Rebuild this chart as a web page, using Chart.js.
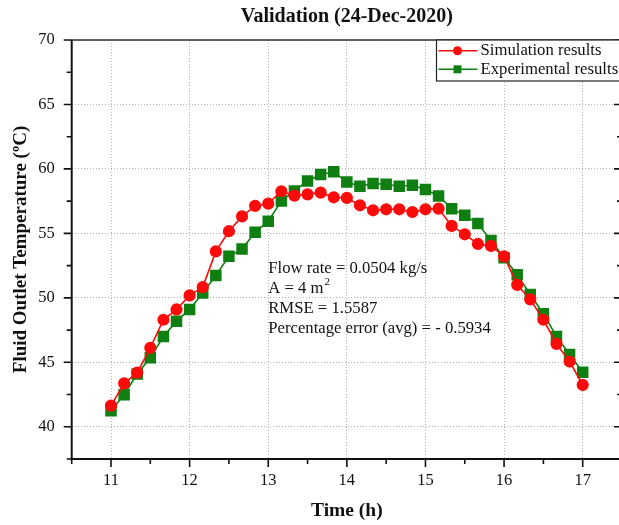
<!DOCTYPE html>
<html>
<head>
<meta charset="utf-8">
<script src="https://cdn.jsdelivr.net/npm/chart.js@4.4.1/dist/chart.umd.min.js"></script>
<style>
  html, body { margin: 0; padding: 0; background: #fff; overflow: hidden; }
  #wrap { width: 619px; height: 525px; overflow: hidden; position: relative; }
  #c { position: absolute; left: 0; top: 0; }
</style>
</head>
<body>
<div id="wrap"><canvas id="c" width="625" height="525"></canvas></div>
<script>
// Time of day (h), sampled every 10 minutes
const timeHours = [
  11.0, 11.1667, 11.3333, 11.5, 11.6667, 11.8333,
  12.0, 12.1667, 12.3333, 12.5, 12.6667, 12.8333,
  13.0, 13.1667, 13.3333, 13.5, 13.6667, 13.8333,
  14.0, 14.1667, 14.3333, 14.5, 14.6667, 14.8333,
  15.0, 15.1667, 15.3333, 15.5, 15.6667, 15.8333,
  16.0, 16.1667, 16.3333, 16.5, 16.6667, 16.8333,
  17.0
];

// Fluid outlet temperature (°C)
const simulationTemp = [
  41.64, 43.37, 44.20, 46.12, 48.30, 49.10,
  50.19, 50.83, 53.60, 55.17, 56.32, 57.13,
  57.31, 58.27, 57.93, 58.03, 58.16, 57.80,
  57.75, 57.18, 56.79, 56.87, 56.87, 56.66,
  56.87, 56.92, 55.58, 54.93, 54.18, 54.03,
  53.22, 51.01, 49.88, 48.30, 46.43, 45.06,
  43.25
];
const experimentalTemp = [
  41.25, 42.49, 44.10, 45.35, 47.00, 48.19,
  49.10, 50.37, 51.74, 53.22, 53.78, 55.08,
  55.94, 57.51, 58.29, 59.07, 59.56, 59.78,
  58.99, 58.66, 58.86, 58.81, 58.66, 58.73,
  58.40, 57.90, 56.92, 56.40, 55.76, 54.44,
  53.11, 51.79, 50.26, 48.77, 47.00, 45.60,
  44.23
];

const seriesLabels = ['Simulation results', 'Experimental results'];
const xTickValues = [11, 12, 13, 14, 15, 16, 17];
const yTickValues = [40, 45, 50, 55, 60, 65, 70];
const titleText = 'Validation (24-Dec-2020)';
const noteLines = [
  ['Flow rate = 0.0504 kg/s', ''],
  ['A = 4 m', '2'],
  ['RMSE = 1.5587', ''],
  ['Percentage error (avg) = - 0.5934', '']
];

const SERIF = "'Liberation Serif', 'Times New Roman', serif";
const RED = '#ff0a0a';
const GREEN = '#0f7f12';

function toPoints(ys) {
  return timeHours.map((t, i) => ({ x: t, y: ys[i] }));
}

// Frame, tick marks, title, legend and the note text
const decorPlugin = {
  id: 'decor',
  afterDraw(chart) {
    const { ctx, chartArea: a, scales: { x, y } } = chart;
    ctx.save();

    // tick marks: major on whole units, minor halfway between
    ctx.strokeStyle = '#111';
    ctx.lineWidth = 1.6;
    ctx.beginPath();
    for (let v = x.min; v <= x.max + 1e-9; v += 0.5) {
      const px = x.getPixelForValue(v);
      const len = Number.isInteger(v) ? 8 : 5;
      ctx.moveTo(px, a.bottom); ctx.lineTo(px, a.bottom + len);
    }
    for (let v = y.min; v <= y.max + 1e-9; v += 2.5) {
      const py = y.getPixelForValue(v);
      const len = (v % 5 === 0) ? 8 : 5;
      ctx.moveTo(a.left, py); ctx.lineTo(a.left - len, py);
      ctx.moveTo(a.right, py); ctx.lineTo(a.right - len, py);
    }
    ctx.stroke();

    // axis frame
    ctx.lineWidth = 2;
    ctx.strokeStyle = '#111';
    ctx.beginPath();
    ctx.moveTo(a.left, a.top); ctx.lineTo(a.left, a.bottom); ctx.lineTo(a.right, a.bottom);
    ctx.stroke();
    ctx.strokeStyle = '#333';
    ctx.lineWidth = 1.6;
    ctx.beginPath();
    ctx.moveTo(a.left, a.top); ctx.lineTo(a.right, a.top); ctx.lineTo(a.right, a.bottom);
    ctx.stroke();

    // title centred over the plot
    ctx.fillStyle = '#111';
    ctx.font = 'bold 20px ' + SERIF;
    ctx.textAlign = 'center';
    ctx.textBaseline = 'middle';
    ctx.fillText(titleText, (a.left + a.right) / 2, 17);

    // note text anchored in data space
    ctx.textAlign = 'left';
    const nx = x.getPixelForValue(13.0);
    const ny = y.getPixelForValue(52.3);
    noteLines.forEach(([main, sup], i) => {
      const ly = ny + i * 20.3;
      ctx.font = '16.7px ' + SERIF;
      ctx.fillText(main, nx, ly);
      if (sup) {
        const w = ctx.measureText(main).width;
        ctx.font = '11px ' + SERIF;
        ctx.fillText(sup, nx + w + 1, ly - 6);
      }
    });

    // legend box in the upper right corner
    const lx = 436.5, ly = a.top, lh = 41;
    ctx.fillStyle = '#fff';
    ctx.fillRect(lx, ly, 200, lh);
    ctx.strokeStyle = '#222';
    ctx.lineWidth = 1.2;
    ctx.strokeRect(lx, ly, 200, lh);
    chart.data.datasets.forEach((ds, i) => {
      const cy = ly + 10.7 + i * 18.6;
      ctx.strokeStyle = ds.borderColor;
      ctx.lineWidth = 1.6;
      ctx.beginPath();
      ctx.moveTo(lx + 2, cy); ctx.lineTo(lx + 41, cy);
      ctx.stroke();
      ctx.fillStyle = ds.pointBackgroundColor;
      if (ds.pointStyle === 'rect') {
        ctx.fillRect(lx + 21 - 4, cy - 4, 8, 8);
      } else {
        ctx.beginPath();
        ctx.arc(lx + 21, cy, 4.5, 0, Math.PI * 2);
        ctx.fill();
      }
      ctx.fillStyle = '#111';
      ctx.font = '16.7px ' + SERIF;
      ctx.textAlign = 'left';
      ctx.textBaseline = 'middle';
      ctx.fillText(ds.label, lx + 44, cy);
    });

    ctx.restore();
  }
};

new Chart(document.getElementById('c'), {
  type: 'line',
  data: {
    datasets: [
      {
        label: seriesLabels[0],
        data: toPoints(simulationTemp),
        borderColor: RED,
        backgroundColor: RED,
        pointBackgroundColor: RED,
        pointBorderColor: RED,
        pointStyle: 'circle',
        pointRadius: 5.3,
        borderWidth: 1.6,
        tension: 0
      },
      {
        label: seriesLabels[1],
        data: toPoints(experimentalTemp),
        borderColor: GREEN,
        backgroundColor: GREEN,
        pointBackgroundColor: GREEN,
        pointBorderColor: GREEN,
        pointStyle: 'rect',
        pointRadius: 7,
        borderWidth: 1.6,
        tension: 0
      }
    ]
  },
  options: {
    responsive: false,
    animation: false,
    devicePixelRatio: 1,
    // the plot frame runs just past the visible right edge
    layout: { autoPadding: false, padding: { top: 40, right: 3, left: 0, bottom: 0 } },
    plugins: {
      legend: { display: false },
      title: { display: false },
      tooltip: { enabled: false }
    },
    scales: {
      x: {
        type: 'linear',
        position: 'bottom',
        min: 10.5,
        max: 17.5,
        afterBuildTicks: (s) => { s.ticks = xTickValues.map(v => ({ value: v })); },
        afterFit: (s) => { s.height = 66; s.paddingLeft = 0; s.paddingRight = 0; },
        grid: { color: '#b5b5b5', lineWidth: 1, drawTicks: false },
        border: { display: false, dash: [1, 2] },
        ticks: {
          color: '#111',
          padding: 12,
          maxRotation: 0,
          font: { family: SERIF, size: 16.5 }
        },
        title: {
          display: true,
          text: 'Time (h)',
          color: '#111',
          font: { family: SERIF, size: 19.5, weight: 'bold' },
          padding: { top: 0, bottom: 2 }
        }
      },
      y: {
        type: 'linear',
        min: 37.5,
        max: 70,
        afterBuildTicks: (s) => { s.ticks = yTickValues.map(v => ({ value: v })); },
        afterFit: (s) => { s.width = 71.7; s.paddingTop = 0; s.paddingBottom = 0; },
        grid: { color: '#b5b5b5', lineWidth: 1, drawTicks: false },
        border: { display: false, dash: [1, 2] },
        ticks: {
          color: '#111',
          padding: 17,
          font: { family: SERIF, size: 16.5 }
        },
        title: {
          display: true,
          text: 'Fluid Outlet Temperature (\u00BAC)',
          color: '#111',
          font: { family: SERIF, size: 19, weight: 'bold' },
          padding: { top: 10, bottom: 0 }
        }
      }
    }
  },
  plugins: [decorPlugin]
});
</script>
</body>
</html>
